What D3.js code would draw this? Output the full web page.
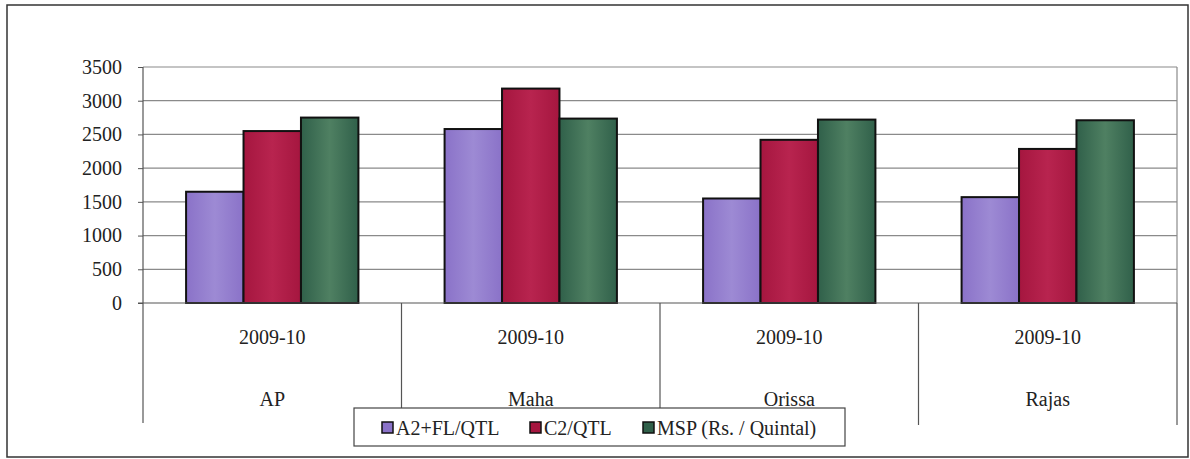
<!DOCTYPE html>
<html>
<head>
<meta charset="utf-8">
<script src="https://cdn.jsdelivr.net/npm/d3@7"></script>
<style>
  html, body { margin: 0; padding: 0; background: #fff; }
  svg { display: block; }
</style>
</head>
<body>
<svg id="chart" width="1190" height="459"></svg>
<script>
// ---- data ----
const states = ["AP", "Maha", "Orissa", "Rajas"];
const years = ["2009-10", "2009-10", "2009-10", "2009-10"];
const seriesNames = ["A2+FL/QTL", "C2/QTL", "MSP (Rs. / Quintal)"];
const a2fl = [1650, 2580, 1550, 1570];
const c2 = [2550, 3180, 2420, 2285];
const msp = [2750, 2735, 2720, 2710];
const yTicks = [0, 500, 1000, 1500, 2000, 2500, 3000, 3500];

const seriesValues = [a2fl, c2, msp];
const colors = ["#8a72c8", "#a5163f", "#30604a"];
const colorsLight = ["#9d8ad4", "#b8244f", "#4f8062"];
const FONT = "'Liberation Serif', 'DejaVu Serif', serif";
const FS = "20px";

const svg = d3.select("#chart");

// outer frame
svg.append("rect")
  .attr("x", 7).attr("y", 5).attr("width", 1181).attr("height", 452)
  .attr("fill", "none").attr("stroke", "#333").attr("stroke-width", 1.5);

const pLeft = 143, pRight = 1177, pTop = 67, pBottom = 303;

const x0 = d3.scaleBand().domain(states).range([pLeft, pRight]).padding(0);
const cw = x0.bandwidth();
const x1 = d3.scaleBand().domain(seriesNames).range([cw / 6, cw * 5 / 6]).padding(0);
const y = d3.scaleLinear().domain([0, 3500]).range([pBottom, pTop]);

// gradients
const defs = svg.append("defs");
colors.forEach((c, i) => {
  const g = defs.append("linearGradient").attr("id", "g" + i)
    .attr("x1", "0%").attr("x2", "100%").attr("y1", "0%").attr("y2", "0%");
  g.append("stop").attr("offset", "0%").attr("stop-color", c);
  g.append("stop").attr("offset", "50%").attr("stop-color", colorsLight[i]);
  g.append("stop").attr("offset", "100%").attr("stop-color", c);
});

// gridlines
svg.append("g").selectAll("line").data(yTicks.filter(t => t > 0)).join("line")
  .attr("x1", pLeft).attr("x2", pRight)
  .attr("y1", d => y(d)).attr("y2", d => y(d))
  .attr("stroke", "#8a8a8a").attr("stroke-width", 1.2);

// right border of plot area
svg.append("line").attr("x1", pRight).attr("x2", pRight).attr("y1", pTop).attr("y2", pBottom)
  .attr("stroke", "#8a8a8a").attr("stroke-width", 1.2);

// y axis
const yAxis = svg.append("g").attr("transform", `translate(${pLeft},0)`)
  .call(d3.axisLeft(y).tickValues(yTicks).tickFormat(d3.format("d"))
    .tickSize(5).tickSizeOuter(0).tickPadding(16));
yAxis.attr("font-family", FONT).attr("font-size", FS);
yAxis.select(".domain").remove();
yAxis.selectAll(".tick line").attr("stroke", "#555");
yAxis.selectAll(".tick text").attr("fill", "#222");

// y axis line extended down through category area
svg.append("line").attr("x1", pLeft).attr("x2", pLeft).attr("y1", pTop).attr("y2", 423)
  .attr("stroke", "#555").attr("stroke-width", 1.2);

// category separators
const sepPos = states.slice(1).map(s => x0(s)).concat([pRight]);
svg.append("g").selectAll("line").data(sepPos).join("line")
  .attr("x1", d => d).attr("x2", d => d)
  .attr("y1", pBottom).attr("y2", 425)
  .attr("stroke", "#555").attr("stroke-width", 1.2);

// bars
const groups = svg.append("g").selectAll("g").data(states).join("g")
  .attr("transform", d => `translate(${x0(d)},0)`);
groups.selectAll("rect")
  .data((s, si) => seriesNames.map((n, k) => ({ n, k, v: seriesValues[k][si] })))
  .join("rect")
  .attr("x", d => x1(d.n))
  .attr("width", x1.bandwidth())
  .attr("y", d => y(d.v))
  .attr("height", d => pBottom - y(d.v))
  .attr("fill", d => `url(#g${d.k})`)
  .attr("stroke", "#111").attr("stroke-width", 2);

// baseline
svg.append("line").attr("x1", pLeft - 5).attr("x2", pRight).attr("y1", pBottom).attr("y2", pBottom)
  .attr("stroke", "#555").attr("stroke-width", 1.2);

// category labels
const cat = svg.append("g").attr("font-family", FONT).attr("font-size", FS).attr("fill", "#222");
cat.selectAll("text.yr").data(states).join("text").attr("class", "yr")
  .attr("x", d => x0(d) + cw / 2).attr("y", 337)
  .attr("text-anchor", "middle").attr("dominant-baseline", "central")
  .text((d, i) => years[i]);
cat.selectAll("text.st").data(states).join("text").attr("class", "st")
  .attr("x", d => x0(d) + cw / 2).attr("y", 399)
  .attr("text-anchor", "middle").attr("dominant-baseline", "central")
  .text(d => d);

// legend
const lg = svg.append("g").attr("font-family", FONT).attr("font-size", FS).attr("fill", "#222");
lg.append("rect").attr("x", 354).attr("y", 408).attr("width", 491).attr("height", 38)
  .attr("fill", "#fff").attr("stroke", "#444").attr("stroke-width", 1.2);
const legX = [382, 530, 643];
seriesNames.forEach((n, i) => {
  lg.append("rect").attr("x", legX[i]).attr("y", 422).attr("width", 11).attr("height", 11)
    .attr("fill", colors[i]).attr("stroke", "#111").attr("stroke-width", 1.5);
  lg.append("text").attr("x", legX[i] + 14).attr("y", 428)
    .attr("dominant-baseline", "central").text(n);
});
</script>
</body>
</html>
